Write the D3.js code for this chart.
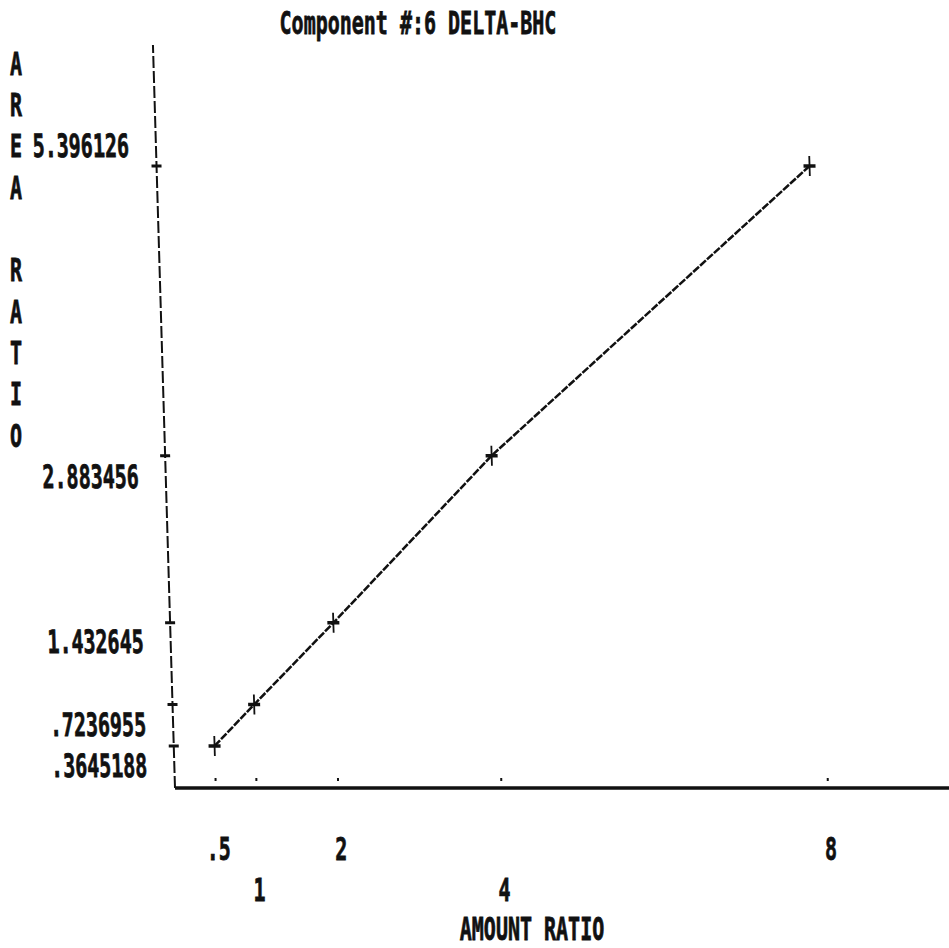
<!DOCTYPE html>
<html>
<head>
<meta charset="utf-8">
<script src="https://cdn.jsdelivr.net/npm/d3@7"></script>
<style>
  html, body { margin: 0; padding: 0; background: #fff; }
  svg { display: block; }
  text { font-family: "DejaVu Sans Mono", "Liberation Mono", monospace; font-weight: bold; font-size: 20px; fill: #111; stroke: #111; stroke-width: 0.5px; }
</style>
</head>
<body>
<svg id="chart" width="949" height="948"></svg>
<script>
// Calibration points for component #6
const amountRatio = [0.5, 1, 2, 4, 8];
const areaRatio = [0.3645188, 0.7236955, 1.432645, 2.883456, 5.396126];
const xTickLabels = [".5", "1", "2", "4", "8"];
const yTickLabels = [".3645188", ".7236955", "1.432645", "2.883456", "5.396126"];
const titleText = "Component #:6 DELTA-BHC";
const xTitle = "AMOUNT RATIO";
const yTitle = "AREA RATIO";

const W = 949, H = 948;
const origin = { x: 175, y: 788 };     // where the axes meet
const rowPitch = 41.3, rowBase = 33.5;  // printer text rows (baseline of row k)
const stretch = 1.6;                    // tall dot-matrix glyphs
const rowY = k => rowBase + k * rowPitch;

const svg = d3.select("#chart");

function label(parent, s, x, y, anchor) {
  return parent.append("text")
    .attr("transform", `translate(${x},${y}) scale(1,${stretch})`)
    .attr("text-anchor", anchor || "start")
    .text(s);
}

const x = d3.scaleLinear().domain([0, 8]).range([0, 653]);
const y = d3.scaleLinear().domain([0, 5.396126]).range([0, -622]);

// Title
label(svg, titleText, 418, rowY(0), "middle");

// Vertical axis title, one letter per text row
yTitle.split("").forEach((ch, i) => {
  if (ch !== " ") label(svg, ch, 16, rowY(1 + i), "middle");
});

// Plot group: the whole frame leans slightly to the left going up
const g = svg.append("g")
  .attr("transform", `translate(${origin.x},${origin.y}) skewX(1.7)`);

// Y axis line
g.append("line")
  .attr("x1", 0).attr("y1", 0).attr("x2", 0).attr("y2", -743)
  .attr("stroke", "#111").attr("stroke-width", 2)
  .attr("stroke-dasharray", "12,3");

// X axis line (heavy)
g.append("line")
  .attr("x1", 0).attr("y1", 0).attr("x2", W - origin.x + 10).attr("y2", 0)
  .attr("stroke", "#111").attr("stroke-width", 3.5);

// Y ticks at the calibration values
g.selectAll(".ytick").data(areaRatio).enter().append("line")
  .attr("x1", -5).attr("x2", 5)
  .attr("y1", d => y(d)).attr("y2", d => y(d))
  .attr("stroke", "#111").attr("stroke-width", 3);

// Y tick labels, snapped to the printer's text rows
g.selectAll(".ylab").data(areaRatio).enter().each(function (d, i) {
  const absY = origin.y + y(d);
  const row = Math.round((absY + 12 - rowBase) / rowPitch);
  label(g, yTickLabels[i], -27, rowY(row) - origin.y, "end");
});

// X ticks: small dots just above the axis
g.selectAll(".xtick").data(amountRatio).enter().append("line")
  .attr("x1", d => x(d)).attr("x2", d => x(d))
  .attr("y1", -10).attr("y2", -7)
  .attr("stroke", "#111").attr("stroke-width", 2);

// X tick labels on two alternating rows
amountRatio.forEach((v, i) => {
  label(svg, xTickLabels[i], origin.x + x(v) + 3, rowY(20 + (i % 2)), "middle");
});

// X axis title (kept clear of the bottom edge)
label(svg, xTitle, 532, H - 8.5, "middle");

// Calibration line
const pts = amountRatio.map((v, i) => [x(v), y(areaRatio[i])]);
g.append("path")
  .attr("d", d3.line()(pts))
  .attr("fill", "none").attr("stroke", "#111").attr("stroke-width", 2.5)
  .attr("stroke-dasharray", "8,1.5");

// Point markers (+)
const mk = g.selectAll(".mk").data(pts).enter().append("g")
  .attr("transform", d => `translate(${d[0]},${d[1]})`);
mk.append("line").attr("x1", -6).attr("x2", 6).attr("y1", 0).attr("y2", 0)
  .attr("stroke", "#111").attr("stroke-width", 3.5);
mk.append("line").attr("x1", 0).attr("x2", 0).attr("y1", -10).attr("y2", 10)
  .attr("stroke", "#111").attr("stroke-width", 1.8);
</script>
</body>
</html>
